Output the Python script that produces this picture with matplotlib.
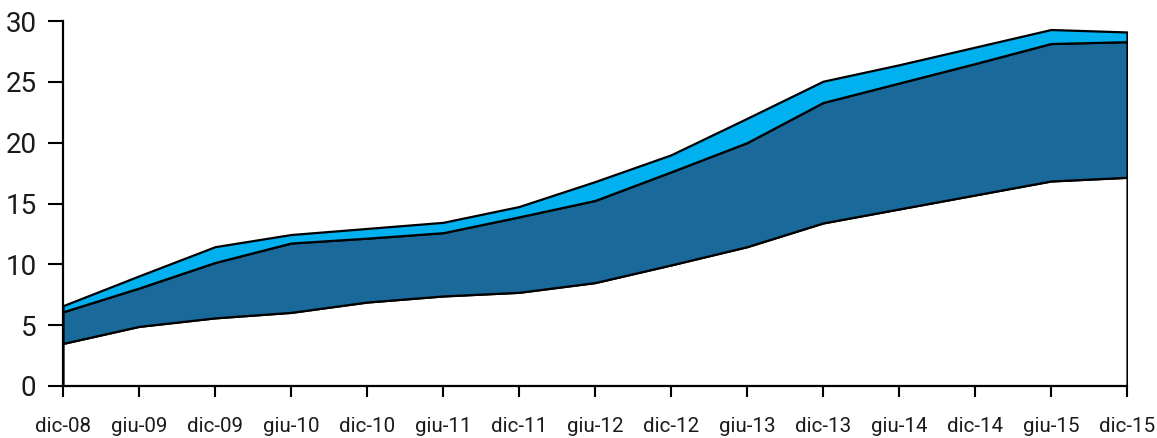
import numpy as np
import matplotlib.pyplot as plt

plt.rcParams['font.family'] = ['Roboto', 'DejaVu Sans']

# Date semestrali
periodi = ['dic-08', 'giu-09', 'dic-09', 'giu-10', 'dic-10', 'giu-11', 'dic-11',
           'giu-12', 'dic-12', 'giu-13', 'dic-13', 'giu-14', 'dic-14', 'giu-15', 'dic-15']

# Livelli cumulati (linea inferiore, intermedia, superiore)
livello_basso = [3.5, 4.9, 5.6, 6.05, 6.9, 7.4, 7.7, 8.5, 9.95, 11.45,
                 13.4, 14.55, 15.7, 16.85, 17.15]
livello_medio = [6.1, 8.05, 10.15, 11.75, 12.15, 12.6, 13.9, 15.25, 17.6, 20.0,
                 23.3, 24.9, 26.5, 28.15, 28.3]
livello_alto = [6.6, 9.05, 11.45, 12.45, 12.95, 13.45, 14.75, 16.8, 19.0, 22.0,
                25.05, 26.4, 27.85, 29.3, 29.1]

x = np.arange(len(periodi))
base = np.array(livello_basso)
fascia_scura = np.array(livello_medio) - base
fascia_chiara = np.array(livello_alto) - np.array(livello_medio)

fig = plt.figure(figsize=(11.57, 4.38), dpi=100)
ax = fig.add_axes([63 / 1157, 52 / 438, 1064 / 1157, 365 / 438])

ax.stackplot(x, base, fascia_scura, fascia_chiara,
             colors=['white', '#196A9B', '#00B0EF'],
             edgecolor='black', linewidth=1.6)

ax.set_xlim(0, len(periodi) - 1)
ax.set_ylim(0, 30)
ax.set_xticks(x)
ax.set_xticklabels(periodi, fontsize=14.8)
ax.set_yticks(np.arange(0, 31, 5))
ax.tick_params(axis='y', labelsize=20, length=11, width=1.5, pad=8, labelcolor='#1a1a1a')
ax.tick_params(axis='x', length=8, width=1.5, pad=14, labelcolor='#1a1a1a')

for lato in ['top', 'right']:
    ax.spines[lato].set_visible(False)
for lato in ['left', 'bottom']:
    ax.spines[lato].set_linewidth(1.6)

fig.savefig('out.png', dpi=100)
